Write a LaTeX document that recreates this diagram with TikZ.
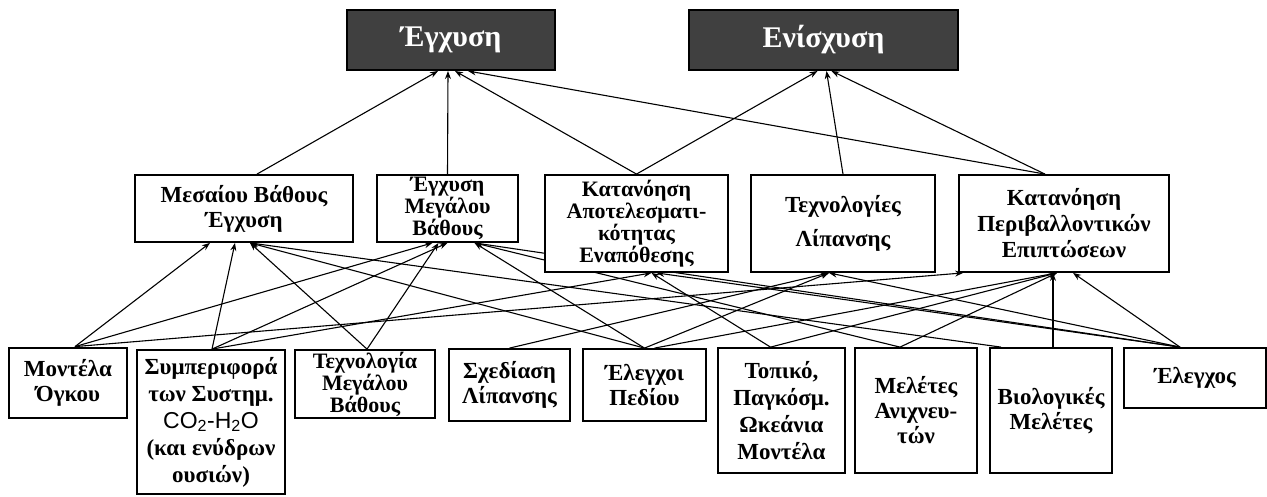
\documentclass[tikz,border=0pt]{standalone}
\usepackage{fontspec}
\setmainfont{Liberation Serif}
\setsansfont{Liberation Sans}
\usetikzlibrary{arrows.meta,backgrounds}
\begin{document}
\begin{tikzpicture}[x=1pt,y={(0pt,-1pt)},
  box/.style={draw=black,line width=1.8pt,fill=white,inner sep=0pt,align=center,
    font=\fontsize{23}{25}\selectfont\bfseries},
  topbox/.style={draw=black,line width=2pt,fill=black!75,text=white,inner sep=0pt,
    font=\fontsize{30}{32}\selectfont\bfseries},
  link/.style={line width=1.1pt,-{Stealth[length=8pt,width=6pt]}}]
\useasboundingbox (0,0) rectangle (1267,496);
% top row
\node[topbox,minimum width=208pt,minimum height=60pt] (egx) at (451,40) {Έγχυση};
\node[topbox,minimum width=269pt,minimum height=60pt] (enis) at (823.5,40) {Ενίσχυση};
% middle row
\node[box,minimum width=218pt,minimum height=67pt] (mes) at (244,208.5) {Μεσαίου Βάθους\\Έγχυση};
\node[box,minimum width=141pt,minimum height=67pt,font=\fontsize{22}{21}\selectfont\bfseries] (egm) at (447.5,208.5) {Έγχυση\\Μεγάλου\\Βάθους};
\node[box,minimum width=183pt,minimum height=97pt,font=\fontsize{22}{22}\selectfont\bfseries] (kap) at (636.5,223.5) {Κατανόηση\\Αποτελεσματι-\\κότητας\\Εναπόθεσης};
\node[box,minimum width=184pt,minimum height=97pt] (tex) at (843,223.5) {Τεχνολογίες\\[9pt]Λίπανσης};
\node[box,minimum width=210pt,minimum height=97pt,font=\fontsize{23}{26}\selectfont\bfseries] (kpe) at (1064,223.5) {Κατανόηση\\Περιβαλλοντικών\\Επιπτώσεων};
% bottom row
\node[box,line width=2.8pt,minimum width=118pt,minimum height=70pt] (mon) at (68,383) {Μοντέλα\\Όγκου};
\node[box,minimum width=148pt,minimum height=144pt,font=\fontsize{23}{27}\selectfont\bfseries] (sym) at (211,422) {Συμπεριφορά\\των Συστημ.\\{\sffamily\mdseries CO\textsubscript{2}-H\textsubscript{2}O}\\(και ενύδρων\\ουσιών)};
\node[box,minimum width=140pt,minimum height=68pt,font=\fontsize{22}{21}\selectfont\bfseries] (tmb) at (365,384) {Τεχνολογία\\Μεγάλου\\Βάθους};
\node[box,minimum width=121pt,minimum height=72pt] (sxe) at (509.5,385) {Σχεδίαση\\Λίπανσης};
\node[box,minimum width=123pt,minimum height=72pt] (ele) at (644.5,385) {Έλεγχοι\\Πεδίου};
\node[box,minimum width=127pt,minimum height=125pt,font=\fontsize{23}{27}\selectfont\bfseries] (topm) at (781.5,410.5) {Τοπικό,\\Παγκόσμ.\\Ωκεάνια\\Μοντέλα};
\node[box,minimum width=122pt,minimum height=125pt] (mel) at (916,410.5) {Μελέτες\\Ανιχνευ-\\τών};
\node[box,minimum width=122pt,minimum height=125pt] (bio) at (1051,410.5) {Βιολογικές\\Μελέτες};
\node[box,minimum width=142pt,minimum height=60pt] (elx) at (1195,378) {Έλεγχος};
\begin{scope}[on background layer]
  \fill[white] (0,0) rectangle (1267,496);
  % into top row
  \draw[link] ([xshift=13pt]mes.north) -- ([xshift=-13pt]egx.south);
  \draw[link] (egm.north) -- ([xshift=-3pt]egx.south);
  \draw[link] (kap.north) -- ([xshift=4pt]egx.south);
  \draw[link] ([xshift=-19pt]kpe.north) -- ([xshift=17pt]egx.south);
  \draw[link] (kap.north) -- ([xshift=-6pt]enis.south);
  \draw[link] (tex.north) -- ([xshift=3pt]enis.south);
  \draw[link] ([xshift=-19pt]kpe.north) -- ([xshift=8pt]enis.south);
  % into middle row
  \draw[link] ([xshift=7pt]mon.north) -- ([xshift=-34pt]mes.south);
  \draw[link] ([xshift=7pt]mon.north) -- ([xshift=-15pt]egm.south);
  \draw[link] ([xshift=7pt]mon.north) -- ([xshift=5pt]kpe.south west);
  \draw[link] ([xshift=1pt]sym.north) -- ([xshift=-9pt]mes.south);
  \draw[link] ([xshift=1pt]sym.north) -- (egm.south);
  \draw[link] ([xshift=1pt]sym.north) -- ([xshift=15pt]kap.south);
  \draw[link] ([xshift=2pt]tmb.north) -- ([xshift=6pt]mes.south);
  \draw[link] ([xshift=2pt]tmb.north) -- ([xshift=-9pt]egm.south);
  \draw[link] (sxe.north) -- ([xshift=-14pt]tex.south);
  \draw[link] (ele.north) -- ([xshift=6pt]mes.south);
  \draw[link] (ele.north) -- ([xshift=27pt]egm.south);
  \draw[link] (ele.north) -- ([xshift=-14pt]tex.south);
  \draw[link] ([xshift=10pt]ele.north) -- ([xshift=-7pt]kpe.south);
  \draw[link] ([xshift=-11pt]topm.north) -- ([xshift=15pt]kap.south);
  \draw[link] ([xshift=-11pt]topm.north) -- ([xshift=-7pt]kpe.south);
  \draw[link] ([xshift=-16pt]mel.north) -- ([xshift=27pt]egm.south);
  \draw[link] ([xshift=-16pt]mel.north) -- ([xshift=-7pt]kpe.south);
  \draw[link] ([xshift=2pt]bio.north) -- ([xshift=-11pt]kpe.south);
  \draw[link] ([xshift=-50pt]bio.north) -- ([xshift=6pt]mes.south);
  \draw[link] ([xshift=-15pt]elx.north) -- ([xshift=27pt]egm.south);
  \draw[link] ([xshift=-15pt]elx.north) -- ([xshift=20pt]kap.south);
  \draw[link] ([xshift=-15pt]elx.north) -- ([xshift=-14pt]tex.south);
  \draw[link] ([xshift=-15pt]elx.north) -- ([xshift=9pt]kpe.south);
\end{scope}
\end{tikzpicture}
\end{document}
